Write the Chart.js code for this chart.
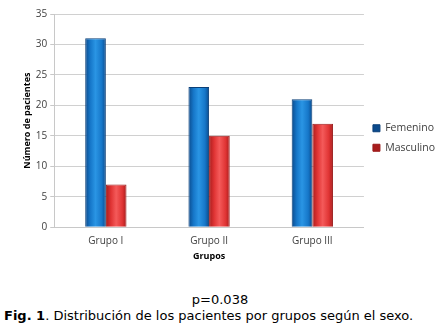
<!DOCTYPE html>
<html>
<head>
<meta charset="utf-8">
<script src="https://cdn.jsdelivr.net/npm/chart.js@4.4.0/dist/chart.umd.min.js"></script>
<style>
  body { margin: 0; background: #fff; }
  #wrap { position: relative; width: 440px; height: 328px; }
  #box { position: absolute; left: 0; top: 0; width: 440px; height: 272px; }
  .cap { position: absolute; left: 0; width: 440px; font-family: "DejaVu Sans", Verdana, sans-serif; font-size: 13px; color: #000; }
  #pval { top: 292px; text-align: center; }
  #fig { top: 308px; left: 4px; }
</style>
</head>
<body>
<div id="wrap">
  <div id="box"><canvas id="chart"></canvas></div>
  <div class="cap" id="pval">p=0.038</div>
  <div class="cap" id="fig"><b>Fig. 1</b>. Distribución de los pacientes por grupos según el sexo.</div>
</div>
<script>
// patients per group, split by sex
const grupos = ["Grupo I", "Grupo II", "Grupo III"];
const femenino = [31, 23, 21];
const masculino = [7, 15, 17];
const yTicks = [0, 5, 10, 15, 20, 25, 30, 35];

const catPct = 0.4;

// horizontal shading so each bar looks like a rounded column
function barShade(dark, mid, light, side) {
  return (ctx) => {
    const chart = ctx.chart;
    const x = chart.scales && chart.scales.x;
    if (!chart.chartArea || !x || ctx.dataIndex === undefined) return mid;
    const c = x.getPixelForValue(ctx.dataIndex);
    const w = (x.width / grupos.length) * catPct / 2;
    const x0 = side === 0 ? c - w : c;
    const g = chart.ctx.createLinearGradient(x0, 0, x0 + w, 0);
    g.addColorStop(0, dark);
    g.addColorStop(0.25, mid);
    g.addColorStop(0.5, light);
    g.addColorStop(0.8, mid);
    g.addColorStop(1, dark);
    return g;
  };
}

const tickFont = { family: "'Open Sans', 'Noto Sans', sans-serif", size: 10 };
const boldFont = { family: "'Open Sans', 'Noto Sans', sans-serif", size: 9, weight: "bold" };

new Chart(document.getElementById("chart"), {
  type: "bar",
  data: {
    labels: grupos,
    datasets: [
      {
        label: "Femenino",
        data: femenino,
        backgroundColor: barShade("#0b4a8c", "#1677c9", "#2a95e4", 0),
        borderColor: "#0a3f78",
        borderWidth: 1
      },
      {
        label: "Masculino",
        data: masculino,
        backgroundColor: barShade("#a81c1c", "#e03434", "#f45a5a", 1),
        borderColor: "#9a1a1a",
        borderWidth: 1
      }
    ]
  },
  options: {
    responsive: true,
    maintainAspectRatio: false,
    animation: false,
    layout: { padding: { left: 16, right: -5, top: 14, bottom: 10 } },
    datasets: { bar: { categoryPercentage: catPct, barPercentage: 1 } },
    plugins: {
      legend: {
        position: "right",
        labels: {
          boxWidth: 7,
          boxHeight: 7,
          padding: 9,
          color: "#404040",
          font: { family: "'Open Sans', 'Noto Sans', sans-serif", size: 10.5 }
        }
      },
      tooltip: { enabled: false }
    },
    scales: {
      x: {
        grid: { display: false, tickLength: 0 },
        border: { color: "#c8c8c8" },
        ticks: { color: "#404040", font: tickFont, padding: 8 },
        title: { display: true, text: "Grupos", color: "#000", font: boldFont, padding: { top: -4, bottom: 0 } }
      },
      y: {
        min: 0,
        max: 35,
        afterBuildTicks: (axis) => { axis.ticks = yTicks.map((v) => ({ value: v })); },
        grid: { color: "#d0d0d0", tickLength: 4, tickColor: "#c8c8c8" },
        border: { color: "#c8c8c8" },
        ticks: { color: "#404040", font: tickFont, padding: 3 },
        title: { display: true, text: "Número de pacientes", color: "#000", font: boldFont, padding: { top: 6, bottom: 0 } }
      }
    }
  }
});
</script>
</body>
</html>
